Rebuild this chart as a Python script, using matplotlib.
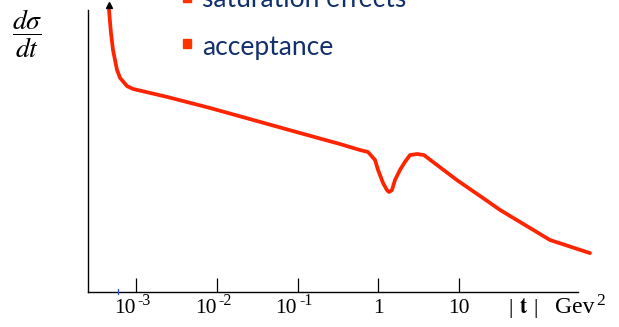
import matplotlib
matplotlib.use("Agg")
import matplotlib.pyplot as plt
from matplotlib.patches import Rectangle
from matplotlib.ticker import NullLocator
from matplotlib.transforms import blended_transform_factory, offset_copy

# ---- data ----
t_values = [4.63e-4, 4.90e-4, 5.19e-4, 5.82e-4, 6.34e-4, 7.74e-4, 9.18e-4,
            2.42e-3, 8.24e-3, 0.107, 0.336, 0.594, 0.746, 0.912, 0.993,
            1.146, 1.28, 1.36, 1.48, 1.61, 1.86, 2.14, 2.47, 3.02, 3.69,
            4.76, 9.44, 19.8, 32.2, 134.0, 419.0]
dsdt_values = [99.3, 91.2, 85.2, 78.2, 75.4, 72.5, 71.5, 68.7, 64.8, 56.0,
               52.1, 50.0, 49.3, 46.5, 43.0, 38.4, 35.9, 35.2, 35.9, 39.4,
               43.0, 45.8, 48.2, 48.6, 48.2, 45.8, 39.4, 33.1, 28.9, 18.3,
               13.7]
tick_values = [1e-3, 1e-2, 1e-1, 1, 10]
tick_bases = ["10", "10", "10", "1", "10"]
tick_exponents = ["-3", "-2", "-1", "", ""]
legend_items = ["saturation effects", "acceptance"]

plt.rcParams["mathtext.fontset"] = "stix"
plt.rcParams["font.family"] = ["Liberation Serif", "DejaVu Serif"]

W, H = 619, 327
fig = plt.figure(figsize=(W / 100, H / 100), dpi=100)

# axes geometry in pixels
left_px, right_px, axis_y_px, top_px = 88, 600, 292, 5
ax = fig.add_axes([left_px / W, (H - axis_y_px) / H,
                   (right_px - left_px) / W, (axis_y_px - top_px) / H])

dec = 80.75  # px per decade
x0 = 10 ** (-3 - (136 - left_px) / dec)
x1 = 10 ** (-3 + (right_px - 136) / dec)
ax.set_xscale("log")
ax.set_xlim(x0, x1)
ax.set_ylim(0, (axis_y_px - top_px) / 2.84)

red = "#ff2400"
ax.plot(t_values, dsdt_values, color=red, lw=2.7, solid_joinstyle="round",
        solid_capstyle="round", zorder=3)
# small arrowhead at the top of the curve
ax.plot([t_values[0]], [100.9], marker="^", color="black", ms=4.5,
        clip_on=False, zorder=4)

for s in ["top", "right"]:
    ax.spines[s].set_visible(False)
ax.spines["left"].set_bounds(0, (axis_y_px - 10) / 2.84)
ax.spines["bottom"].set_bounds(x0, 10 ** (-3 + (578 - 136) / dec))
for s in ["left", "bottom"]:
    ax.spines[s].set_linewidth(1.0)
    ax.spines[s].set_color("black")

ax.set_yticks([])
ax.set_xticks(tick_values)
ax.set_xticklabels([])
ax.xaxis.set_minor_locator(NullLocator())
ax.tick_params(axis="x", direction="in", length=10, width=0.9)

# tick labels: base + raised exponent (hyphen style as in the picture)
trans = blended_transform_factory(ax.transData, fig.transFigure)
base_y = 1 - 313 / H
for tv, b, e in zip(tick_values, tick_bases, tick_exponents):
    if e:
        ax.text(tv, base_y, b, transform=offset_copy(trans, fig=fig, x=-0.5, units="dots"),
                ha="right", va="baseline", fontsize=15.5, clip_on=False)
        ax.text(tv, base_y, e, transform=offset_copy(trans, fig=fig, x=1.5, y=8, units="dots"),
                ha="left", va="baseline", fontsize=11.5, clip_on=False)
    else:
        ax.text(tv, base_y, b, transform=trans, ha="center", va="baseline",
                fontsize=15.5, clip_on=False)

# small blue mark on the axis
ax.plot([5.98e-4, 5.98e-4], [-0.6, 0.9], color="#3050d0", lw=0.9,
        clip_on=False, zorder=4)

# axis labels
fig.text(508 / W, base_y, "|", fontsize=15.5, ha="left", va="baseline")
fig.text(519 / W, base_y, r"$\mathbf{t}$", fontsize=15.5, ha="left", va="baseline")
fig.text(533 / W, base_y, "|", fontsize=15.5, ha="left", va="baseline")
fig.text(555 / W, base_y, "Gev", fontsize=17, ha="left", va="baseline")
fig.text(596 / W, base_y + 8 / H, "2", fontsize=12.5, ha="left", va="baseline")
fig.text(27 / W, 1 - 34 / H, r"$\dfrac{d\sigma}{dt}$", fontsize=20,
         ha="center", va="center", color="black")

# legend-like bullet list
navy = "#12306c"
bullet_color = "#ff3300"
fig.text(202 / W, 1 - 7 / H, legend_items[0], fontsize=19, family="Lato",
         color=navy, ha="left", va="baseline")
fig.text(202 / W, 1 - 55 / H, legend_items[1], fontsize=19, family="Lato",
         color=navy, ha="left", va="baseline")
fig.patches.append(Rectangle((183 / W, 1 - 48 / H), 8 / W, 9 / H,
                             transform=fig.transFigure, color=bullet_color))
fig.patches.append(Rectangle((183 / W, 1 - 2 / H), 8 / W, 9 / H,
                             transform=fig.transFigure, color=bullet_color))

fig.savefig("out.png", dpi=100)
